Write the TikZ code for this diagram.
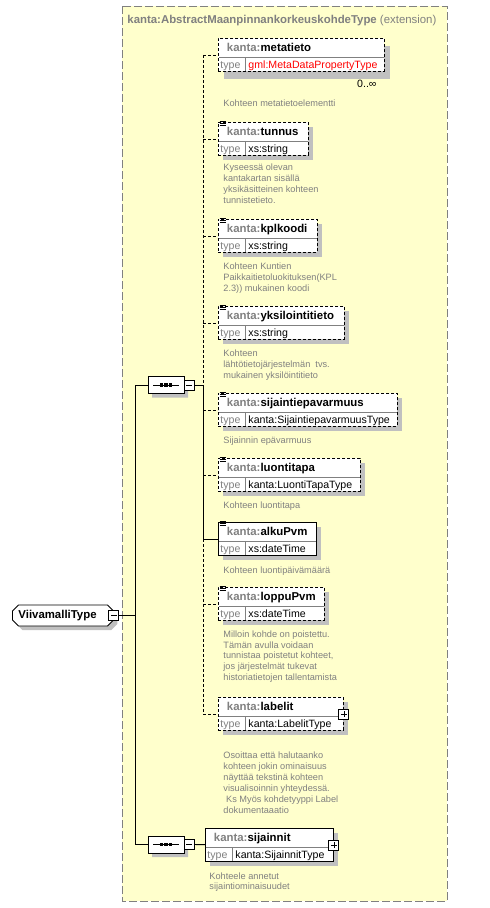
\documentclass[tikz,border=0pt]{standalone}
\usepackage{fontspec}
\setmainfont{Liberation Sans}
\usetikzlibrary{shapes.misc,shadows}
\definecolor{extfill}{HTML}{FFFFCC}
\definecolor{xsgray}{HTML}{808080}
\definecolor{shadegray}{HTML}{C0C0C0}

\newcommand{\xselem}[6]{%
  \node[elem,#1,minimum width={(#5-#3)*1pt}] (#2) at (#3,#4) {};
  \draw[xsgray] ({#3+0.5},{#4+19}) -- ({#5-0.5},{#4+19}) ({#3+27},{#4+19}) -- ({#3+27},{#4+32.5});
  \node[head] (#2-name) at ({#3+8.5},{#4+13.5}) {\textcolor{xsgray}{kanta:}#2};
  \node[typ,text=xsgray] (#2-tl) at ({#3+2},{#4+30}) {type};
  \node[typ] (#2-type) at ({#3+30},{#4+30}) {#6};
}

\begin{document}
\begin{tikzpicture}[x=1pt,y=-1pt,line width=0.9pt,
  opt/.style={dash pattern=on 3pt off 2pt},
  shade/.style={drop shadow={shadow xshift=5pt,shadow yshift=-5pt,fill=shadegray,opacity=1}},
  deepshade/.style={drop shadow={shadow xshift=6pt,shadow yshift=-8pt,fill=shadegray,opacity=1}},
  smallshade/.style={drop shadow={shadow xshift=4pt,shadow yshift=-4pt,fill=shadegray,opacity=1}},
  elem/.style={draw,fill=white,anchor=north west,inner sep=0pt,minimum height=33pt},
  head/.style={anchor=base west,inner sep=0pt,font=\fontsize{11.4}{13}\selectfont\bfseries},
  typ/.style={anchor=base west,inner sep=0pt,font=\fontsize{10.6}{12}\selectfont},
  doc/.style={anchor=north west,inner sep=0pt,align=left,text=xsgray,font=\fontsize{9.2}{10.9}\selectfont},
  seq/.style={draw,fill=white,chamfered rectangle,chamfered rectangle xsep=5pt,chamfered rectangle ysep=5pt,
    minimum width=36pt,minimum height=17pt,inner sep=0pt,smallshade,
    path picture={\draw[black,line width=1pt] ([xshift=5pt]path picture bounding box.west) -- ([xshift=-5pt]path picture bounding box.east);
      \foreach \dx in {-4.5,0,4.5} \fill[black] ([xshift=\dx pt]path picture bounding box.center) +(-1.6pt,-1.6pt) rectangle +(1.6pt,1.6pt);}},
  root/.style={draw,fill=white,chamfered rectangle,chamfered rectangle xsep=3pt,chamfered rectangle ysep=3pt,
    anchor=west,text width=89pt,inner xsep=3pt,inner ysep=0pt,minimum height=21pt,smallshade,
    font=\fontsize{11.4}{13}\selectfont\bfseries},
  minus/.style={draw,fill=white,minimum size=10pt,inner sep=0pt,
    path picture={\draw[black,line width=0.8pt] ([xshift=2pt]path picture bounding box.west) -- ([xshift=-2pt]path picture bounding box.east);}},
  plus/.style={draw,fill=white,minimum size=10pt,inner sep=0pt,
    path picture={\draw[black,line width=0.8pt] ([xshift=2pt]path picture bounding box.west) -- ([xshift=-2pt]path picture bounding box.east);
      \draw[black,line width=0.8pt] ([yshift=2pt]path picture bounding box.south) -- ([yshift=-2pt]path picture bounding box.north);}}]

\useasboundingbox (0,0) rectangle (490,908);
\draw[xsgray,fill=extfill,dash pattern=on 8pt off 3pt] (122,6) rectangle (447,901);
\node[head,text=xsgray] (ext) at (127,23.3) {kanta:AbstractMaanpinnankorkeuskohdeType \mdseries(extension)};

\xselem{opt,deepshade}{metatieto}{218}{38}{384}{\textcolor{red}{gml:MetaDataPropertyType}}
\xselem{opt,shade}{tunnus}{218}{122}{308}{xs:string}
\xselem{opt,shade}{kplkoodi}{218}{219}{317}{xs:string}
\xselem{opt,shade}{yksilointitieto}{218}{306}{344}{xs:string}
\xselem{opt,shade}{sijaintiepavarmuus}{218}{393}{397}{kanta:SijaintiepavarmuusType}
\xselem{opt,shade}{luontitapa}{218}{458}{360}{kanta:LuontiTapaType}
\xselem{shade}{alkuPvm}{218}{522}{316}{xs:dateTime}
\xselem{opt,shade}{loppuPvm}{218}{587}{324}{xs:dateTime}
\xselem{opt,shade}{labelit}{218}{697}{343}{kanta:LabelitType}
\xselem{shade}{sijainnit}{205}{828}{333}{kanta:SijainnitType}

\node[typ,anchor=base east] (metatieto-occ) at (377,87.5) {0..∞};
\foreach \n in {tunnus,kplkoodi,yksilointitieto,sijaintiepavarmuus,luontitapa,alkuPvm,loppuPvm}
  \foreach \k in {-1,1,3}
    \draw[line width=0.7pt] ([xshift=1.5pt]\n.north west) ++(0,\k) -- ++(6,0);

\node[doc] (metatieto-doc) at (223,99.3) {Kohteen metatietoelementti};
\node[doc] (tunnus-doc) at (223,163.8) {Kyseessä olevan\\kantakartan sisällä\\yksikäsitteinen kohteen\\tunnistetieto.};
\node[doc] (kplkoodi-doc) at (223,262.3) {Kohteen Kuntien\\Paikkaitietoluokituksen(KPL\\2.3)) mukainen koodi};
\node[doc] (yksilointitieto-doc) at (223,349.3) {Kohteen\\lähtötietojärjestelmän~ tvs.\\mukainen yksilöintitieto};
\node[doc] (sijaintiepavarmuus-doc) at (223,436.3) {Sijainnin epävarmuus};
\node[doc] (luontitapa-doc) at (223,501) {Kohteen luontitapa};
\node[doc] (alkuPvm-doc) at (223,566) {Kohteen luontipäivämäärä};
\node[doc] (loppuPvm-doc) at (223,630) {Milloin kohde on poistettu.\\Tämän avulla voidaan\\tunnistaa poistetut kohteet,\\jos järjestelmät tukevat\\historiatietojen tallentamista};
\node[doc] (labelit-doc) at (223,751.6) {Osoittaa että halutaanko\\kohteen jokin ominaisuus\\näyttää tekstinä kohteen\\visualisoinnin yhteydessä.\\\hspace*{0.3em}Ks Myös kohdetyyppi Label\\dokumentaaatio};
\node[doc,font=\fontsize{9.2}{10}\selectfont] (sijainnit-doc) at (209,872) {Kohteele annetut\\sijaintiominaisuudet};

\coordinate (busA) at (203,385);
\coordinate (mainbus) at (135,385);
\node[seq] (seqA) at (166,385) {};
\node[minus] (seqA-m) at (189,385) {};
\node[seq] (seqB) at (166,844.5) {};
\node[minus] (seqB-m) at (189,844.5) {};
\node[root] (root) at (12,615.5) {ViivamalliType};
\node[minus] (root-m) at (root.east) {};
\node[plus] (labelit-p) at (labelit.east) {};
\node[plus] (sijainnit-p) at (sijainnit.east) {};

\draw (root-m) -- (root-m -| mainbus);
\draw (mainbus) -- (seqA);
\draw (mainbus) -- (seqB -| mainbus) -- (seqB);
\draw (seqA-m) -- (busA);
\draw (seqB-m) -- (sijainnit);
\draw[opt] (metatieto.west -| busA) -- (busA);
\draw (busA) -- (alkuPvm.west -| busA);
\draw[opt] (alkuPvm.west -| busA) -- (labelit.west -| busA);
\foreach \n in {metatieto,tunnus,kplkoodi,yksilointitieto,sijaintiepavarmuus,luontitapa,loppuPvm,labelit}
  \draw[opt] (\n.west -| busA) -- (\n.west);
\draw (alkuPvm.west -| busA) -- (alkuPvm.west);
\end{tikzpicture}
\end{document}
